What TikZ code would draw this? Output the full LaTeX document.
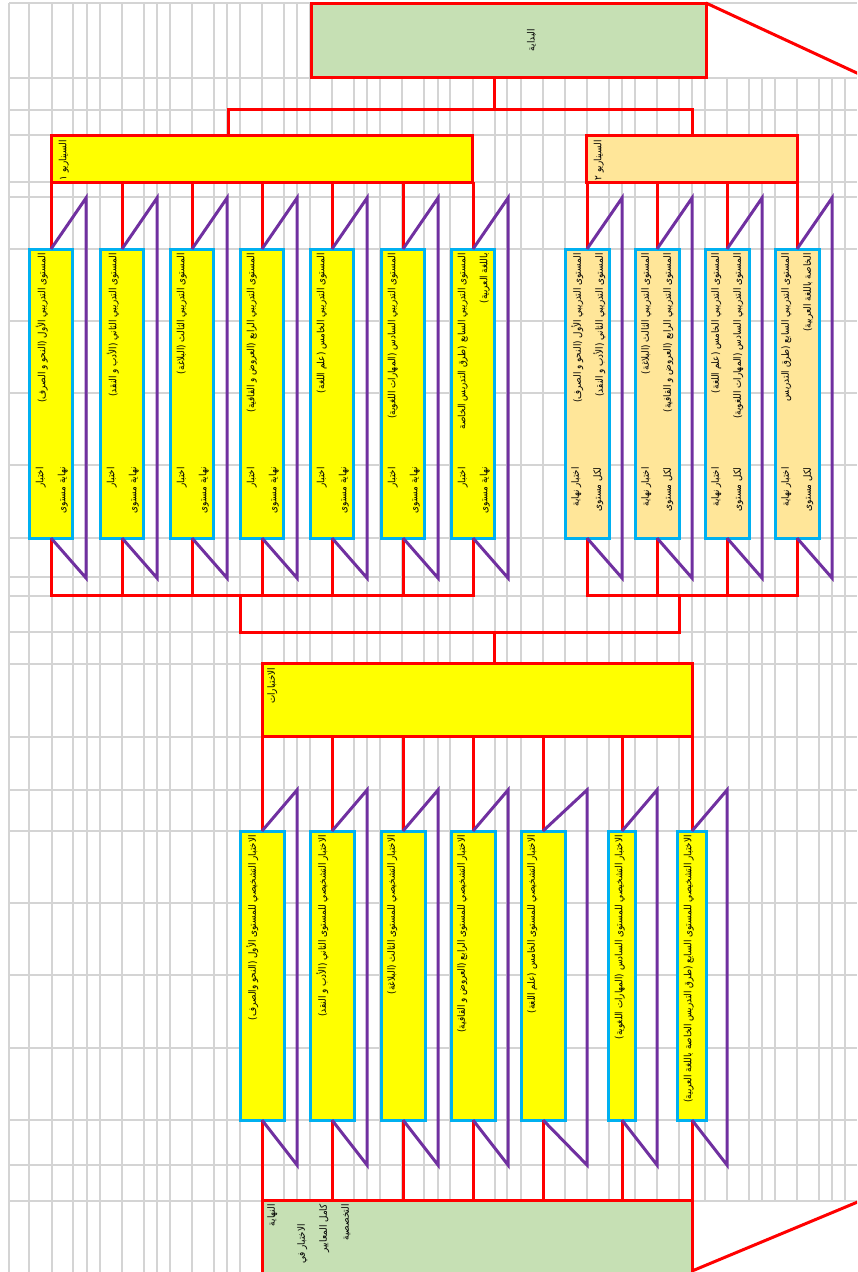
\documentclass[tikz,border=0pt]{standalone}
\usepackage{fontspec}
\newfontfamily\arfont[Script=Arabic,FakeStretch=0.88]{DejaVu Sans}
\TeXXeTstate=1
\newcommand{\artx}[1]{\beginR#1\endR}

\tikzset{every picture/.style={line width=0.75pt}}
\tikzset{
	gridln/.style={draw={rgb, 255:red, 212; green, 212; blue, 212}, line width=1.5pt},
	redln/.style={draw={rgb, 255:red, 255; green, 0; blue, 0}, line width=3pt},
	purpln/.style={draw={rgb, 255:red, 112; green, 48; blue, 160}, line width=3pt},
	headbox/.style={draw={rgb, 255:red, 255; green, 0; blue, 0}, line width=3pt, inner sep=0pt, outer sep=0pt},
	lvlbox/.style={draw={rgb, 255:red, 0; green, 176; blue, 240}, fill={rgb, 255:red, 255; green, 255; blue, 0}, line width=3pt, inner sep=0pt, outer sep=0pt, minimum height=289},
	greenfill/.style={fill={rgb, 255:red, 198; green, 224; blue, 180}},
	yellowfill/.style={fill={rgb, 255:red, 255; green, 255; blue, 0}},
	orangefill/.style={fill={rgb, 255:red, 255; green, 230; blue, 153}},
	artxt/.style={rotate=90, inner sep=0pt, align=right, font=\arfont\fontsize{10}{22}\selectfont},
}

\begin{document}
\begin{tikzpicture}[x=1pt,y=1pt,yscale=-1,xscale=1]
		\useasboundingbox (0,0) rectangle (857,1272);
		\clip (0,0) rectangle (857,1272);
		
		%Grid
		\foreach \gx in {9,29,52,73,87,100,122,144,157,170,192,214,227,240,262,284,297,310,332,354,367,380,402,424,438,450,473,495,507,521,543,565,587,609,622,635,657,679,692,705,727,749,762,775,797,819,832,845}
			\draw[gridln] (\gx,3) -- (\gx,1272);
		\fill[white] (706,4) rectangle (857,77);
		\fill[white] (693,1202) rectangle (857,1272);
		\foreach \gy in {3,78,110,135,182,197,249,321,393,465,538,577,596,632,664,737,790,831,903,975,1048,1120,1165,1201}
			\draw[gridln] (9,\gy) -- (857,\gy);
		
		%Shape: Rectangle
		\node[headbox, greenfill, minimum width=395, minimum height=74] (start) at (508.5,40) {};
		%Shape: Rectangle
		\node[headbox, yellowfill, minimum width=421, minimum height=47] (scna) at (262,158.5) {};
		%Shape: Rectangle
		\node[headbox, orangefill, minimum width=211, minimum height=47] (scnb) at (692,158.5) {};
		%Shape: Rectangle
		\node[headbox, yellowfill, minimum width=430, minimum height=73] (tests) at (477,700) {};
		%Shape: Rectangle
		\node[headbox, greenfill, minimum width=430, minimum height=90] (finish) at (477,1245) {};
		
		%Shape: Rectangle
		\node[lvlbox, minimum width=43] (lva1) at (51,393.5) {};
		\node[lvlbox, minimum width=43] (lva2) at (122,393.5) {};
		\node[lvlbox, minimum width=43] (lva3) at (192,393.5) {};
		\node[lvlbox, minimum width=43] (lva4) at (262,393.5) {};
		\node[lvlbox, minimum width=43] (lva5) at (332,393.5) {};
		\node[lvlbox, minimum width=43] (lva6) at (403,393.5) {};
		\node[lvlbox, minimum width=43] (lva7) at (473,393.5) {};
		%Shape: Rectangle
		\node[lvlbox, orangefill, minimum width=44] (lvb1) at (587,393.5) {};
		\node[lvlbox, orangefill, minimum width=44] (lvb2) at (657,393.5) {};
		\node[lvlbox, orangefill, minimum width=44] (lvb3) at (727,393.5) {};
		\node[lvlbox, orangefill, minimum width=44] (lvb4) at (797,393.5) {};
		%Shape: Rectangle
		\node[lvlbox, minimum width=44] (dg1) at (262,975.5) {};
		\node[lvlbox, minimum width=44] (dg2) at (332,975.5) {};
		\node[lvlbox, minimum width=44] (dg3) at (403,975.5) {};
		\node[lvlbox, minimum width=44] (dg4) at (473,975.5) {};
		\node[lvlbox, minimum width=44] (dg5) at (543,975.5) {};
		\node[lvlbox, minimum width=27] (dg6) at (622,975.5) {};
		\node[lvlbox, minimum width=29] (dg7) at (692,975.5) {};
		
		%Straight Lines
		\coordinate (j0) at (494,109);
		\coordinate (j1) at (228,109);
		\draw[redln] (start.south -| j0) -- (j0);
		\draw[redln] (scna.north -| j1) -- (j1) -| (scnb.north);
		\draw[redln] (start.north east) -- (872,80);
		
		%Straight Lines
		\draw[redln] (lva1.north) -- (lva1.north |- scna.south);
		\draw[redln] (lva2.north) -- (lva2.north |- scna.south);
		\draw[redln] (lva3.north) -- (lva3.north |- scna.south);
		\draw[redln] (lva4.north) -- (lva4.north |- scna.south);
		\draw[redln] (lva5.north) -- (lva5.north |- scna.south);
		\draw[redln] (lva6.north) -- (lva6.north |- scna.south);
		\draw[redln] (lva7.north) -- (lva7.north |- scna.south);
		\draw[redln] (lvb1.north) -- (lvb1.north |- scnb.south);
		\draw[redln] (lvb2.north) -- (lvb2.north |- scnb.south);
		\draw[redln] (lvb3.north) -- (lvb3.north |- scnb.south);
		\draw[redln] (lvb4.north) -- (lvb4.north |- scnb.south);
		
		%Straight Lines
		\coordinate (k1) at (240,595);
		\coordinate (k2) at (679,595);
		\coordinate (k3) at (240,632);
		\coordinate (k4) at (679,632);
		\coordinate (k0) at (494,632);
		\draw[redln] (lva1.south) |- (k1) -| (lva7.south);
		\draw[redln] (lva2.south) -- (lva2.south |- k1);
		\draw[redln] (lva3.south) -- (lva3.south |- k1);
		\draw[redln] (lva4.south) -- (lva4.south |- k1);
		\draw[redln] (lva5.south) -- (lva5.south |- k1);
		\draw[redln] (lva6.south) -- (lva6.south |- k1);
		\draw[redln] (lvb1.south) |- (k2) -| (lvb4.south);
		\draw[redln] (lvb2.south) -- (lvb2.south |- k2);
		\draw[redln] (lvb3.south) -- (lvb3.south |- k2);
		\draw[redln] (k1) -- (k3) -- (k4) -- (k2);
		\draw[redln] (k0) -- (tests.north -| k0);
		
		%Straight Lines
		\draw[redln] (dg1.north) -- (dg1.north |- tests.south);
		\draw[redln] (dg2.north) -- (dg2.north |- tests.south);
		\draw[redln] (dg3.north) -- (dg3.north |- tests.south);
		\draw[redln] (dg4.north) -- (dg4.north |- tests.south);
		\draw[redln] (dg5.north) -- (dg5.north |- tests.south);
		\draw[redln] (dg6.north) -- (dg6.north |- tests.south);
		\draw[redln] (dg7.north) -- (dg7.north |- tests.south);
		\draw[redln] (dg1.south) -- (dg1.south |- finish.north);
		\draw[redln] (dg2.south) -- (dg2.south |- finish.north);
		\draw[redln] (dg3.south) -- (dg3.south |- finish.north);
		\draw[redln] (dg4.south) -- (dg4.south |- finish.north);
		\draw[redln] (dg5.south) -- (dg5.south |- finish.north);
		\draw[redln] (dg6.south) -- (dg6.south |- finish.north);
		\draw[redln] (dg7.south) -- (dg7.south |- finish.north);
		\draw[redln] (finish.east |- 0,1271) -- (872,1196);
		
		%Straight Lines
		\draw[purpln] (lva1.north) -- ++(35,-51) -- ++(0,380) -- (lva1.south);
		\draw[purpln] (lva2.north) -- ++(35,-51) -- ++(0,380) -- (lva2.south);
		\draw[purpln] (lva3.north) -- ++(35,-51) -- ++(0,380) -- (lva3.south);
		\draw[purpln] (lva4.north) -- ++(35,-51) -- ++(0,380) -- (lva4.south);
		\draw[purpln] (lva5.north) -- ++(35,-51) -- ++(0,380) -- (lva5.south);
		\draw[purpln] (lva6.north) -- ++(35,-51) -- ++(0,380) -- (lva6.south);
		\draw[purpln] (lva7.north) -- ++(35,-51) -- ++(0,380) -- (lva7.south);
		\draw[purpln] (lvb1.north) -- ++(35,-51) -- ++(0,380) -- (lvb1.south);
		\draw[purpln] (lvb2.north) -- ++(35,-51) -- ++(0,380) -- (lvb2.south);
		\draw[purpln] (lvb3.north) -- ++(35,-51) -- ++(0,380) -- (lvb3.south);
		\draw[purpln] (lvb4.north) -- ++(35,-51) -- ++(0,380) -- (lvb4.south);
		\draw[purpln] (dg1.north) -- ++(35,-41) -- ++(0,375) -- (dg1.south);
		\draw[purpln] (dg2.north) -- ++(35,-41) -- ++(0,375) -- (dg2.south);
		\draw[purpln] (dg3.north) -- ++(35,-41) -- ++(0,375) -- (dg3.south);
		\draw[purpln] (dg4.north) -- ++(35,-41) -- ++(0,375) -- (dg4.south);
		\draw[purpln] (dg5.north) -- ++(44,-41) -- ++(0,375) -- (dg5.south);
		\draw[purpln] (dg6.north) -- ++(35,-41) -- ++(0,375) -- (dg6.south);
		\draw[purpln] (dg7.north) -- ++(35,-41) -- ++(0,375) -- (dg7.south);
		
		% Text Node
		\node[artxt] (startt) at ([xshift=23]start.center) {\artx{البداية}};
		% Text Node
		\node[artxt, anchor=north east] (scnat) at ([shift={(7,5)}]scna.north west) {\artx{السيناريو ١}};
		% Text Node
		\node[artxt, anchor=north east] (scnbt) at ([shift={(7,5)}]scnb.north west) {\artx{السيناريو ٢}};
		% Text Node
		\node[artxt, anchor=north east] (testst) at ([shift={(5,4)}]tests.north west) {\artx{الاختبارات}};
		% Text Node
		\node[artxt, anchor=north east] (finisht) at ([shift={(5,4)}]finish.north west) {\artx{النهاية}\\[8pt]\artx{\hspace*{20pt}الاختبار في}\\\artx{كامل المعايير}\\\artx{التخصصية}};
		
		% Text Node
		\node[artxt, anchor=north east] (lva1t) at ([shift={(6,4)}]lva1.north west) {\artx{المستوى التدريبي الأول (النحو و الصرف)}};
		\node[artxt, anchor=north east] (lva2t) at ([shift={(6,4)}]lva2.north west) {\artx{المستوى التدريبي الثاني (الأدب و النقد)}};
		\node[artxt, anchor=north east] (lva3t) at ([shift={(6,4)}]lva3.north west) {\artx{المستوى التدريبي الثالث (البلاغة)}};
		\node[artxt, anchor=north east] (lva4t) at ([shift={(6,4)}]lva4.north west) {\artx{المستوى التدريبي الرابع (العروض و القافية)}};
		\node[artxt, anchor=north east] (lva5t) at ([shift={(6,4)}]lva5.north west) {\artx{المستوى التدريبي الخامس (علم اللغة)}};
		\node[artxt, anchor=north east] (lva6t) at ([shift={(6,4)}]lva6.north west) {\artx{المستوى التدريبي السادس (المهارات اللغوية)}};
		\node[artxt, anchor=north east] (lva7t) at ([shift={(6,4)}]lva7.north west) {\artx{المستوى التدريبي السابع (طرق التدريس الخاصة}\\\artx{باللغة العربية)}};
		% Text Node
		\node[artxt, anchor=north east] (lva1x) at ([shift={(6,218)}]lva1.north west) {\artx{اختبار}\\\artx{نهاية مستوى}};
		\node[artxt, anchor=north east] (lva2x) at ([shift={(6,218)}]lva2.north west) {\artx{اختبار}\\\artx{نهاية مستوى}};
		\node[artxt, anchor=north east] (lva3x) at ([shift={(6,218)}]lva3.north west) {\artx{اختبار}\\\artx{نهاية مستوى}};
		\node[artxt, anchor=north east] (lva4x) at ([shift={(6,218)}]lva4.north west) {\artx{اختبار}\\\artx{نهاية مستوى}};
		\node[artxt, anchor=north east] (lva5x) at ([shift={(6,218)}]lva5.north west) {\artx{اختبار}\\\artx{نهاية مستوى}};
		\node[artxt, anchor=north east] (lva6x) at ([shift={(6,218)}]lva6.north west) {\artx{اختبار}\\\artx{نهاية مستوى}};
		\node[artxt, anchor=north east] (lva7x) at ([shift={(6,218)}]lva7.north west) {\artx{اختبار}\\\artx{نهاية مستوى}};
		
		% Text Node
		\node[artxt, anchor=north east] (lvb1t) at ([shift={(6,4)}]lvb1.north west) {\artx{المستوى التدريبي الأول (النحو و الصرف)}\\\artx{المستوى التدريبي الثاني (الأدب و النقد)}};
		\node[artxt, anchor=north east] (lvb2t) at ([shift={(6,4)}]lvb2.north west) {\artx{المستوى التدريبي الثالث (البلاغة)}\\\artx{المستوى التدريبي الرابع (العروض و القافية)}};
		\node[artxt, anchor=north east] (lvb3t) at ([shift={(6,4)}]lvb3.north west) {\artx{المستوى التدريبي الخامس (علم اللغة)}\\\artx{المستوى التدريبي السادس (المهارات اللغوية)}};
		\node[artxt, anchor=north east] (lvb4t) at ([shift={(6,4)}]lvb4.north west) {\artx{المستوى التدريبي السابع (طرق التدريس}\\\artx{الخاصة باللغة العربية)}};
		% Text Node
		\node[artxt, anchor=north east] (lvb1x) at ([shift={(6,218)}]lvb1.north west) {\artx{اختبار نهاية}\\\artx{لكل مستوى}};
		\node[artxt, anchor=north east] (lvb2x) at ([shift={(6,218)}]lvb2.north west) {\artx{اختبار نهاية}\\\artx{لكل مستوى}};
		\node[artxt, anchor=north east] (lvb3x) at ([shift={(6,218)}]lvb3.north west) {\artx{اختبار نهاية}\\\artx{لكل مستوى}};
		\node[artxt, anchor=north east] (lvb4x) at ([shift={(6,218)}]lvb4.north west) {\artx{اختبار نهاية}\\\artx{لكل مستوى}};
		
		% Text Node
		\node[artxt, anchor=north east] (dg1t) at ([shift={(6,4)}]dg1.north west) {\artx{الاختبار التشخيصي للمستوى الأول (النحو والصرف)}};
		\node[artxt, anchor=north east] (dg2t) at ([shift={(6,4)}]dg2.north west) {\artx{الاختبار التشخيصي للمستوى الثاني (الأدب و النقد)}};
		\node[artxt, anchor=north east] (dg3t) at ([shift={(6,4)}]dg3.north west) {\artx{الاختبار التشخيصي للمستوى الثالث (البلاغة)}};
		\node[artxt, anchor=north east] (dg4t) at ([shift={(6,4)}]dg4.north west) {\artx{الاختبار التشخيصي للمستوى الرابع (العروض و القافية)}};
		\node[artxt, anchor=north east] (dg5t) at ([shift={(6,4)}]dg5.north west) {\artx{الاختبار التشخيصي للمستوى الخامس (علم اللغة)}};
		\node[artxt, anchor=north east] (dg6t) at ([shift={(6,4)}]dg6.north west) {\artx{الاختبار التشخيصي للمستوى السادس (المهارات اللغوية)}};
		\node[artxt, anchor=north east] (dg7t) at ([shift={(6,4)}]dg7.north west) {\artx{الاختبار التشخيصي للمستوى السابع (طرق التدريس الخاصة باللغة العربية)}};
		
	\end{tikzpicture}
\end{document}
